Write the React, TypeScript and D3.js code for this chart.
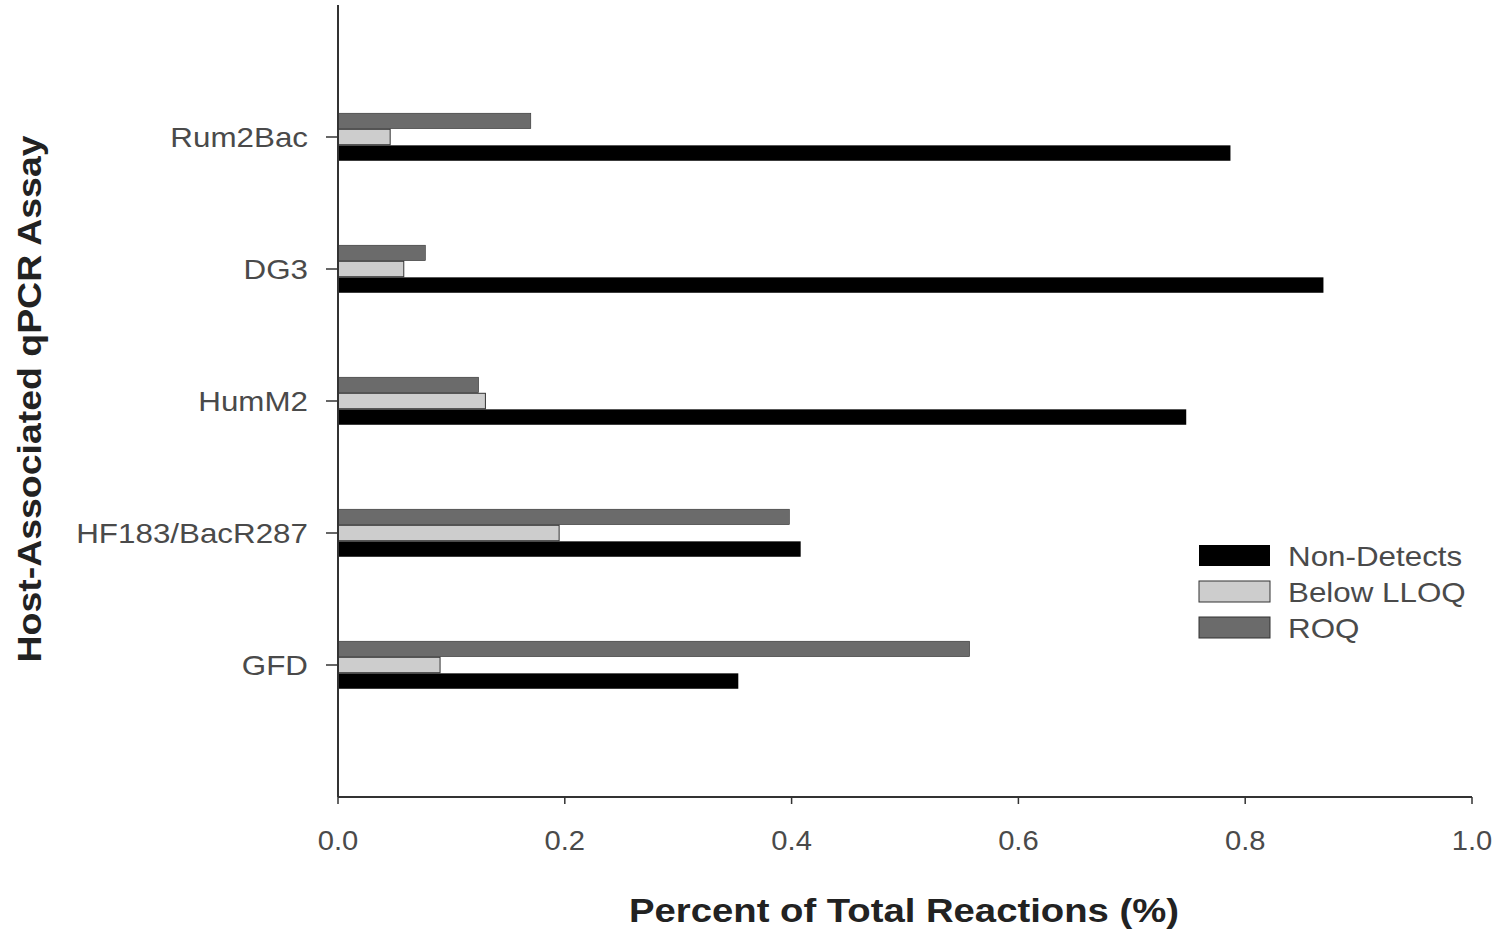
import React from "react";
import * as d3 from "d3";

const assays = ["Rum2Bac", "DG3", "HumM2", "HF183/BacR287", "GFD"];
const series = ["ROQ", "Below LLOQ", "Non-Detects"];
const roq = [0.17, 0.077, 0.124, 0.398, 0.557];
const belowLloq = [0.046, 0.058, 0.13, 0.195, 0.09];
const nonDetects = [0.787, 0.869, 0.748, 0.408, 0.353];
const xTicks = [0, 0.2, 0.4, 0.6, 0.8, 1.0];
const legendOrder = ["Non-Detects", "Below LLOQ", "ROQ"];

const colors: Record<string, string> = {
  ROQ: "#6b6b6b",
  "Below LLOQ": "#cdcdcd",
  "Non-Detects": "#000000",
};
const values: Record<string, number[]> = {
  ROQ: roq,
  "Below LLOQ": belowLloq,
  "Non-Detects": nonDetects,
};

const W = 1500;
const H = 940;
const left = 338;
const right = 1472;
const top = 5;
const bottom = 797;

// the original text looks horizontally stretched; mimic with a scale
const Label = ({ x, y, sx, children, ...rest }: any) => (
  <text transform={`translate(${x},${y}) scale(${sx},1)`} {...rest}>
    {children}
  </text>
);

export default function App() {
  const x = d3.scaleLinear().domain([0, 1]).range([left, right]);
  const y = d3.scaleLinear().domain([0, 6]).range([top, bottom]);
  const inner = d3
    .scaleBand()
    .domain(series)
    .range([-0.18, 0.18])
    .paddingInner(0.04);

  const font = "Arial, 'Liberation Sans', sans-serif";

  return (
    <svg
      width={W}
      height={H}
      style={{ position: "absolute", left: 0, top: 0, background: "#fff" }}
      fontFamily={font}
    >
      {/* bars */}
      {assays.map((a, i) =>
        series.map((s) => {
          const y0 = y(i + 1 + (inner(s) as number));
          const y1 = y(i + 1 + (inner(s) as number) + inner.bandwidth());
          return (
            <rect
              key={a + s}
              x={x(0)}
              y={y0}
              width={x(values[s][i]) - x(0)}
              height={y1 - y0}
              fill={colors[s]}
              stroke={s === "Non-Detects" ? "none" : "#333"}
              strokeWidth={s === "Below LLOQ" ? 1 : 0.6}
            />
          );
        })
      )}

      {/* y axis */}
      <line x1={left} x2={left} y1={top} y2={bottom} stroke="#333" strokeWidth={2} />
      {assays.map((a, i) => (
        <g key={a}>
          <line x1={left - 12} x2={left} y1={y(i + 1)} y2={y(i + 1)} stroke="#333" strokeWidth={1.5} />
          <Label
            x={left - 30}
            y={y(i + 1)}
            sx={1.12}
            dy="0.35em"
            textAnchor="end"
            fontSize={28}
            fill="#4a4a4a"
          >
            {a}
          </Label>
        </g>
      ))}

      {/* x axis */}
      <line x1={left} x2={right} y1={bottom} y2={bottom} stroke="#333" strokeWidth={2} />
      {xTicks.map((t) => (
        <g key={t}>
          <line x1={x(t)} x2={x(t)} y1={bottom} y2={bottom + 7} stroke="#333" strokeWidth={1.5} />
          <Label x={x(t)} y={bottom + 53} sx={1.08} textAnchor="middle" fontSize={27} fill="#4a4a4a">
            {t.toFixed(1)}
          </Label>
        </g>
      ))}

      {/* axis titles */}
      <Label
        x={(left + right) / 2 - 1}
        y={922}
        sx={1.16}
        textAnchor="middle"
        fontSize={33}
        fontWeight="bold"
        fill="#222"
      >
        Percent of Total Reactions (%)
      </Label>
      <text
        transform={`translate(41, ${(top + bottom) / 2 - 2}) rotate(-90) scale(1.135,1)`}
        textAnchor="middle"
        fontSize={33}
        fontWeight="bold"
        fill="#222"
      >
        Host-Associated qPCR Assay
      </text>

      {/* legend */}
      {legendOrder.map((s, i) => (
        <g key={s} transform={`translate(1199, ${545 + i * 36})`}>
          <rect
            width={71}
            height={21}
            fill={colors[s]}
            stroke={s === "Non-Detects" ? "none" : "#333"}
            strokeWidth={1}
          />
          <Label x={89} y={11} sx={1.12} dy="0.35em" fontSize={28} fill="#4a4a4a">
            {s}
          </Label>
        </g>
      ))}
    </svg>
  );
}
